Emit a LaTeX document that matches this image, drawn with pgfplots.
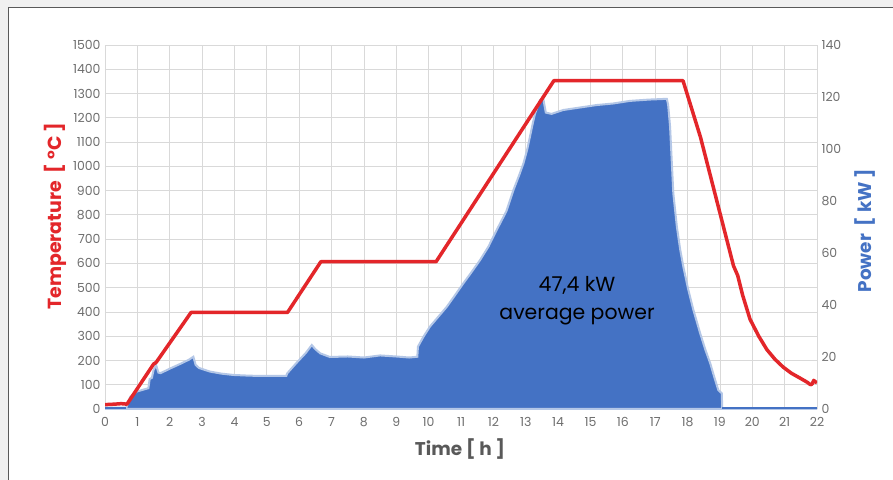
\documentclass[border=0pt]{standalone}
\usepackage{pgfplots}
\pgfplotsset{compat=1.18}
\usepackage{fontspec}
\setmainfont{Poppins}
\definecolor{tred}{HTML}{E3262A}
\definecolor{pblue}{HTML}{4472C4}
\definecolor{halo}{HTML}{B4C7E7}
\definecolor{tickgray}{HTML}{6E6E6E}
\definecolor{labgray}{HTML}{595959}
\definecolor{gridgray}{HTML}{D9D9D9}
\begin{document}
\begin{tikzpicture}
\fill[black!6] (-105bp,-71bp) rectangle (788bp,409bp);
\fill[white] (-96bp,-71bp) rectangle (788bp,401bp);
\draw[labgray, line width=1bp] (-96bp,-71bp) -- (-96bp,401bp) -- (788bp,401bp);
\pgfplotsset{
  base/.style={
    width=712bp, height=364bp, scale only axis,
    at={(0,0)}, anchor=south west,
    xmin=0, xmax=22,
    axis line style={draw=none},
    tick style={draw=none},
    /pgf/number format/assume math mode=true,
    /pgf/number format/1000 sep={},
    ticklabel style={font=\fontsize{12.5}{14}\selectfont, text=tickgray},
  }
}
% temperature axis: grid, ticks, labels
\begin{axis}[base,
  ymin=0, ymax=1500,
  ytick distance=100,
  xtick distance=1,
  grid=major,
  major grid style={gridgray, line width=0.8bp},
  xticklabel style={yshift=-5bp},
  yticklabel style={xshift=-1bp},
  xlabel={Time [ h ]},
  xlabel style={at={(axis description cs:0.4986,-0.11)}, anchor=center,
    font=\bfseries\fontsize{18.5}{22}\selectfont, text=labgray},
  ylabel={Temperature\ \ [ °C ]},
  ylabel style={at={(axis description cs:-0.07,0.53)}, anchor=center,
    font=\bfseries\fontsize{19}{22}\selectfont, text=tred},
]
\end{axis}
% power axis
\begin{axis}[base,
  ymin=0, ymax=140,
  ytick distance=20,
  axis y line*=right,
  axis x line=none,
  yticklabel style={xshift=1bp},
  ylabel={Power\ \ [ kW ]},
  ylabel style={at={(axis description cs:1.067,0.49)}, anchor=center, rotate=0,
    font=\bfseries\fontsize{18.5}{22}\selectfont, text=pblue},
]
\addplot[fill=pblue, draw=halo, line width=2bp] coordinates {
(0,0.5)(0.66,0.5)(0.7,2)(0.78,4.7)(0.98,6.7)(1.2,7.5)(1.34,8)(1.38,11.5)(1.45,12)
(1.5,15)(1.58,16.9)(1.65,14)(1.72,13.8)(2.0,15.5)(2.3,17.2)(2.6,19)(2.73,20.1)
(2.8,17)(2.9,15.8)(3.24,14.4)(3.6,13.6)(3.96,13.1)(4.5,12.8)(5.0,12.7)(5.6,12.7)
(5.63,13.7)(5.9,17.5)(6.2,21.5)(6.39,24.6)(6.5,23)(6.65,21.4)(6.95,20)(7.5,20.2)
(8.0,19.8)(8.5,20.6)(9.0,20.2)(9.4,19.8)(9.65,20.1)(9.67,24)(9.84,27.8)(10.04,31.7)
(10.3,35.5)(10.56,39.3)(10.8,43.5)(11.07,48.3)(11.3,52.2)(11.59,57.3)(11.85,62.5)
(12.1,68.8)(12.4,76)(12.62,84.2)(12.8,90)(12.93,94.5)(13.05,100)
(13.13,104.7)(13.22,110)(13.29,113.7)(13.44,118.8)(13.54,119.5)(13.62,114)(13.8,113.5)
(14.16,115)(14.7,116)(15.19,116.9)(15.7,117.5)(16.22,118.5)(16.8,119)(17.36,119.3)
(17.4,117)(17.46,108.6)(17.56,83)(17.67,70.1)(17.77,61.5)(17.87,54.7)(18.02,46)
(18.18,38.1)(18.39,29.1)(18.55,22.8)(18.7,17.6)(18.82,12.5)(18.95,7.3)(19.06,6)(19.07,0)(22,0)
} \closedcycle;
\addplot[pblue, line width=1.5bp] coordinates {(19.07,0.3)(22,0.3)};
\addplot[pblue, line width=1.5bp] coordinates {(0,0.3)(0.66,0.3)};
\end{axis}
% temperature line on top
\begin{axis}[base, ymin=0, ymax=1500, hide axis]
\addplot[tred, line width=3.5bp, line join=round] coordinates {
(0,18)(0.3,20)(0.5,22)(0.68,20)(1.5,185)(1.58,192)(2.66,398)(5.64,398)(6.67,607)
(10.23,607)(13.87,1353)(17.86,1353)(18.4,1120)(18.9,860)(19.42,590)(19.55,550)
(19.7,470)(19.93,370)(20.2,300)(20.45,245)(20.7,205)(20.96,172)(21.2,148)(21.48,127)
(21.7,110)(21.8,100)(21.85,103)(21.9,118)(21.95,112)(22,108)
};
\node[align=center, font=\fontsize{20.5}{28}\selectfont, text=black]
  at (axis description cs:0.663,0.298) {47,4 kW\\average power};
\end{axis}
\pgfresetboundingbox
\useasboundingbox (-105bp,-71bp) rectangle (788bp,409bp);
\end{tikzpicture}
\end{document}
